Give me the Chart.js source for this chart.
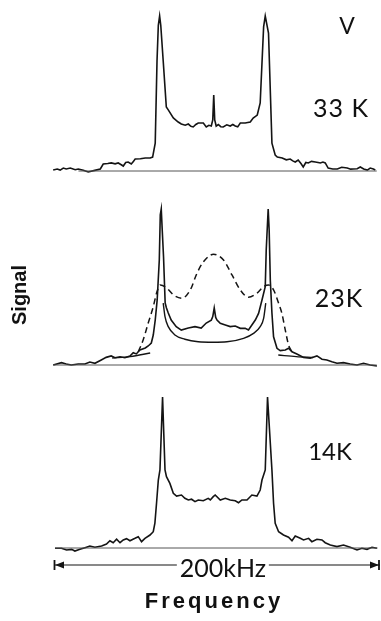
<!DOCTYPE html>
<html>
<head>
<meta charset="utf-8">
<script src="https://cdn.jsdelivr.net/npm/chart.js@4.4.1/dist/chart.umd.min.js"></script>
<style>
  html, body { margin: 0; padding: 0; background: #fff; }
  #wrap { position: relative; width: 381px; height: 621px; overflow: hidden; background: #fff; }
  #wrap canvas { position: absolute; left: 0; top: 0; }
  .lbl { position: absolute; font-family: Lato, "DejaVu Sans", sans-serif; font-weight: 400; color: #111;
         line-height: 1; white-space: nowrap; transform: translate(-50%, -50%); }
  .axis { font-family: "Liberation Sans", Arial, sans-serif; font-weight: bold; color: #111; }
</style>
</head>
<body>
<div id="wrap">
  <canvas id="c33" width="381" height="621"></canvas>
  <canvas id="c23" width="381" height="621"></canvas>
  <canvas id="c14" width="381" height="621"></canvas>

  <div class="lbl" style="left:347px;top:25px;font-size:23px">V</div>
  <div class="lbl" style="left:341px;top:107px;font-size:25px;letter-spacing:1px">33 K</div>
  <div class="lbl" style="left:339px;top:297px;font-size:25px;letter-spacing:1px">23K</div>
  <div class="lbl" style="left:330px;top:451px;font-size:24px">14K</div>
  <div class="lbl" style="left:223px;top:567px;font-size:25px;background:#fff;padding:0 3px">200kHz</div>
  <div class="lbl axis" style="left:214px;top:601px;font-size:22px;letter-spacing:3px">Frequency</div>
  <div class="lbl axis" style="left:19px;top:295px;font-size:20px;transform:translate(-50%,-50%) rotate(-90deg)">Signal</div>
</div>

<script>
// frequency offset in kHz, signal normalised to the horn peaks (=100)
const trace33K = [
  [-98.5,0.6],[-96,1.3],[-94.2,0.6],[-92.3,1.9],[-90.5,1.3],[-88,1.9],[-85,0.8],[-83.1,1.3],[-80,0.5],
  [-77,-0.6],[-73,0.4],[-69.6,1.3],[-67.8,4.5],[-65,4.8],[-62.9,5.2],[-60.5,4.6],[-58.6,5.2],[-57,4.2],
  [-55.5,3.2],[-54,5.5],[-52.5,5.8],[-50.6,4.5],[-49.3,6.2],[-48.2,7.7],[-45,7.9],[-42,8.4],[-39,8.4],
  [-37.5,9],[-35.9,18],[-34.8,71],[-34,94],[-33.2,100],[-32.5,94],[-31,71],[-29.1,41.3],[-27.9,39.4],
  [-24.8,34.2],[-21.8,31.6],[-19.9,30.3],[-17.5,29.5],[-15.6,30.3],[-14,28.8],[-12.6,28.4],[-11,30],
  [-9.5,31],[-6.4,31],[-4.6,28.4],[-3,29.5],[-1.5,29],[-0.6,33],[0,49],[0.6,33],[1.5,29],[2.8,30],
  [4.3,28.6],[5.8,28.4],[8,29.8],[10.1,29],[11.7,30],[13.2,29],[14.7,28.5],[16.3,31],[19.3,31],
  [22.4,31.6],[24.2,34.2],[26.7,36.1],[28.5,43.9],[30.6,93],[31.6,100],[33.6,89],[35.7,18],[37.7,10.3],
  [39,9],[42,8.4],[44.5,7.2],[46.9,7.7],[48.5,6.5],[50,5.8],[51.8,7.1],[53.5,4.8],[54.9,2.6],[56.5,5.5],
  [58,5.2],[60,6.2],[62.3,5.8],[64,5.5],[65.4,5.2],[67,5.8],[68.4,5.2],[70.2,1.9],[73,1.3],[75.8,1.3],
  [78.5,2.4],[81.9,1.9],[84,1.2],[85.6,1.3],[88,1.5],[89.9,2.6],[92,1.3],[94.2,0.6],[96,1.9],[97.9,1.3],[99.1,0.6]
];
const base33K = [[-83,0],[100,0]];

const trace23K = [
  [-98.5,0],[-93.4,1.5],[-90.5,0.6],[-87.4,0],[-83.1,0.6],[-79,0.6],[-76,1.9],[-72.9,1.1],[-69,3.2],
  [-66,4.9],[-62.9,5.8],[-60.6,4.7],[-57.5,5.3],[-54.5,4.7],[-51.4,5.8],[-49.4,7.9],[-47.5,7.1],
  [-45.3,9.6],[-42,10.9],[-40.2,12.2],[-38.3,14.1],[-37.1,19.2],[-35.9,28.8],[-34.7,41.7],[-33.4,67.3],
  [-32.8,96.2],[-32.2,100],[-31.6,86.5],[-30.8,69.4],[-29.8,39.7],[-29,36.5],[-27.9,33.3],[-26.1,28.8],
  [-23,24.6],[-19.9,22.4],[-15.6,23.7],[-11.5,24.6],[-7.7,23.7],[-4.6,26.9],[-1.5,28.8],[-0.6,31],
  [0.3,36.5],[1.2,30.5],[2,28.8],[4,26.7],[7.1,25.6],[10.1,24.6],[13.2,25],[16.3,23.5],[19.3,23.5],
  [21.3,22.4],[23.4,25.6],[25.5,28.8],[27.5,33.1],[29.6,41.7],[31.6,50.2],[32.2,73.7],[33.4,100],
  [34,86.5],[34.7,54.5],[35.7,33.3],[36.7,18.1],[38.8,10.7],[40.8,9.2],[43.9,9.6],[45.9,10.7],[48,8.5],
  [51,7.1],[55.1,4.9],[59.2,4.3],[63.3,5.8],[66.4,3.7],[69.4,3.2],[72.5,2.1],[75.6,1.1],[79.6,1.5],
  [83.7,0.6],[87.9,0],[91.9,1.1],[96,0],[100.1,-0.6]
];
const dashed23K = [
  [-46.3,8.5],[-43.3,16],[-40.2,26.9],[-37.1,37.4],[-35.1,46],[-32.8,51.3],[-28.7,49.2],[-24.7,44.9],
  [-19.5,42.8],[-14.4,48.1],[-10.3,58.8],[-6.3,66.2],[-0.1,71],[6,67.3],[11.2,57.7],[16.3,48.1],
  [21.3,43.4],[26.5,46],[30.6,50.2],[33.6,51.3],[36.7,48.1],[39.8,39.6],[41.8,33.1],[43.9,22.4],
  [45.9,12.8],[48,8.5]
];
const powder23K = [
  [-31,39.7],[-29.9,31],[-27.9,24.6],[-23.8,19.2],[-17.7,16.5],[-9.5,14.9],[-0.3,14.6],[8.1,14.9],
  [18.3,17.1],[24.4,20.3],[28.5,24.6],[30.6,29.9],[31.9,39.7]
];
const wingLeft23K = [[-62.3,4.5],[-51.2,5.4],[-39,7.7]];
const wingRight23K = [[39.6,6.4],[50.6,5.4],[61,4.8]];
const base23K = [[-98.5,0],[100,0]];

const trace14K = [
  [-97.4,-0.2],[-93.4,-0.2],[-90.3,-1.3],[-87.2,-0.9],[-85.2,-2],[-82.1,-0.9],[-79,0.2],[-76,1.3],
  [-72.9,0.5],[-68.8,1.3],[-65.8,2.6],[-63.7,4.8],[-61.7,3.5],[-59.6,5.8],[-57.5,3.5],[-55.5,5.3],
  [-53.5,6.2],[-51.4,4.8],[-48.3,6.4],[-46.3,7.5],[-44.3,4.2],[-42.2,6.4],[-39.1,8.6],[-37.1,10.8],
  [-36.1,16.4],[-35.1,29.6],[-34,45],[-33,51.7],[-31.4,100],[-29.9,51.7],[-29,47.2],[-26.9,42.8],
  [-24.8,36.2],[-22.8,34.4],[-19.8,35.1],[-17.7,32.9],[-15.6,31.8],[-13.6,32.3],[-11.5,30.7],
  [-9.5,31.8],[-6.4,31.3],[-3.4,32.9],[-2.1,31.8],[-0.3,34],[0.9,35.1],[4,31.8],[7.1,32.9],[10.1,31.8],
  [13.2,31.3],[15.2,30],[17.3,31.8],[20.4,31.8],[23.4,35.1],[26.5,34.4],[28.5,38.4],[29.6,45],
  [31.6,51.7],[33,100],[35.7,51.7],[36.7,29.6],[37.7,16.4],[39.8,10.8],[42.8,8.6],[45.9,7.1],[48,4.8],
  [50,7.9],[53.1,6.4],[55.1,5.3],[58.2,6.4],[60.2,4.2],[63.3,5.8],[66.4,5.3],[68.4,3.5],[71.5,2],
  [75.6,0.9],[79.6,2],[83.7,0.5],[87.9,-1.3],[90.9,-0.2],[94,-0.9],[97.1,0.5],[100.1,-0.2]
];
const base14K = [[-97.4,0],[100.5,0]];

const freqMin = -98, freqMax = 102;   // the 200 kHz window
const INK = '#141414';

const toPts = arr => arr.map(p => ({ x: p[0], y: p[1] }));

function line(data, extra) {
  return Object.assign({
    data: toPts(data),
    borderColor: INK,
    borderWidth: 1.6,
    pointRadius: 0,
    tension: 0,
    clip: false
  }, extra || {});
}

// bracket with arrowheads under the last spectrum
const spanArrow = {
  id: 'spanArrow',
  afterDraw(chart) {
    const { ctx, scales: { x } } = chart;
    const x0 = x.getPixelForValue(freqMin), x1 = x.getPixelForValue(freqMax);
    const y = 565;
    ctx.save();
    ctx.strokeStyle = INK;
    ctx.fillStyle = INK;
    ctx.lineWidth = 1.1;
    ctx.beginPath();
    ctx.moveTo(x0, y); ctx.lineTo(x1, y);
    ctx.stroke();
    ctx.lineWidth = 1.8;
    ctx.beginPath();
    ctx.moveTo(x0 + 0.5, y - 5); ctx.lineTo(x0 + 0.5, y + 5);
    ctx.moveTo(x1 - 1, y - 5); ctx.lineTo(x1 - 1, y + 5);
    ctx.stroke();
    ctx.beginPath();
    ctx.moveTo(x0 + 1, y); ctx.lineTo(x0 + 10, y - 3.5); ctx.lineTo(x0 + 10, y + 3.5); ctx.closePath();
    ctx.moveTo(x1 - 1, y); ctx.lineTo(x1 - 10, y - 3.5); ctx.lineTo(x1 - 10, y + 3.5); ctx.closePath();
    ctx.fill();
    ctx.restore();
  }
};

function spectrum(id, top, base, datasets, plugins) {
  return new Chart(document.getElementById(id), {
    type: 'line',
    data: { datasets },
    options: {
      responsive: false,
      animation: false,
      events: [],
      layout: { padding: { left: 54, right: 1, top: top, bottom: 621 - base } },
      plugins: { legend: { display: false }, tooltip: { enabled: false } },
      scales: {
        x: { type: 'linear', min: freqMin, max: freqMax, display: false },
        y: { min: 0, max: 100, display: false }
      }
    },
    plugins: plugins || []
  });
}

spectrum('c33', 16, 171, [
  line(base33K, { borderWidth: 1, borderColor: '#555' }),
  line(trace33K)
]);

spectrum('c23', 209, 365, [
  line(base23K, { borderWidth: 1, borderColor: '#555' }),
  line(wingLeft23K, { borderWidth: 1.3, cubicInterpolationMode: 'monotone' }),
  line(wingRight23K, { borderWidth: 1.3, cubicInterpolationMode: 'monotone' }),
  line(powder23K, { borderWidth: 1.4, cubicInterpolationMode: 'monotone' }),
  line(dashed23K, { borderWidth: 1.5, borderDash: [6, 4], cubicInterpolationMode: 'monotone' }),
  line(trace23K)
]);

spectrum('c14', 397, 548, [
  line(base14K, { borderWidth: 1, borderColor: '#555' }),
  line(trace14K)
], [spanArrow]);
</script>
</body>
</html>
